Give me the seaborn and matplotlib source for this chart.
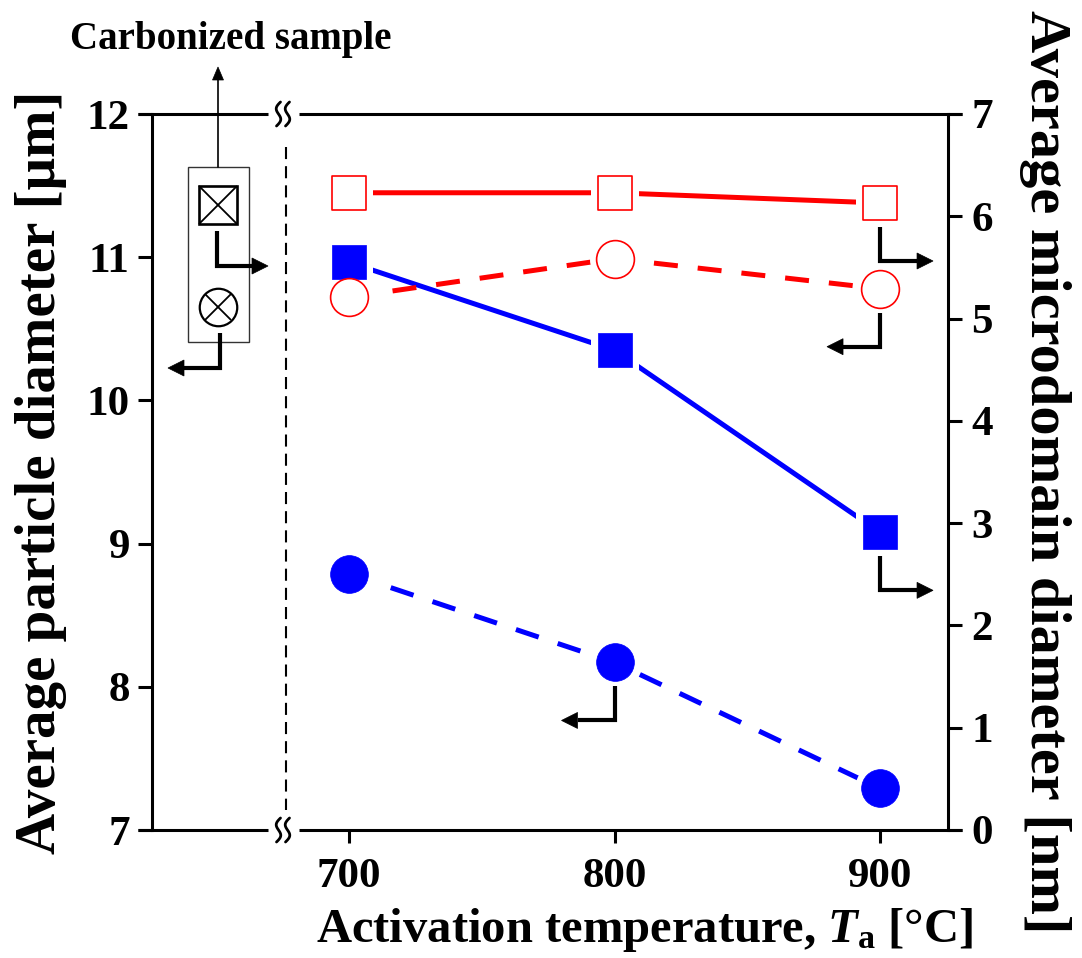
import numpy as np
import matplotlib
matplotlib.use("Agg")
import matplotlib.pyplot as plt
import seaborn as sns
from matplotlib.lines import Line2D
from matplotlib.patches import Rectangle, Polygon
from matplotlib.transforms import IdentityTransform

# ---------------- data ----------------
temperatures = [700, 800, 900]
microdomain_filled = [5.55, 4.69, 2.91]     # filled blue squares (right axis, nm)
microdomain_open = [6.23, 6.23, 6.13]       # open red squares (right axis, nm)
particle_filled = [8.79, 8.17, 7.29]        # filled blue circles (left axis, um)
particle_open = [10.72, 10.99, 10.78]       # open red circles (left axis, um)
left_ticks = [7, 8, 9, 10, 11, 12]
right_ticks = [0, 1, 2, 3, 4, 5, 6, 7]
x_ticks = [700, 800, 900]
x_ticklabels = ["700", "800", "900"]
xlabel = "Activation temperature, $\\mathit{T}_{\\mathrm{a}}$ [°C]"
ylabel_left = "Average particle diameter [μm]"
ylabel_right = "Average microdomain diameter [nm]"
annot_text = "Carbonized sample"

RED = "#FF0000"
BLUE = "#0000FF"

sns.set_theme(style="white")
plt.rcParams["font.family"] = ["Liberation Serif", "DejaVu Serif"]
plt.rcParams["font.weight"] = "bold"
plt.rcParams["text.color"] = "black"
plt.rcParams["axes.labelcolor"] = "black"
plt.rcParams["xtick.color"] = "black"
plt.rcParams["ytick.color"] = "black"
plt.rcParams["mathtext.fontset"] = "custom"
plt.rcParams["mathtext.rm"] = "Liberation Serif:bold"
plt.rcParams["mathtext.it"] = "Liberation Serif:italic:bold"
plt.rcParams["mathtext.bf"] = "Liberation Serif:bold"

W, H, DPI = 1082, 958, 100
fig = plt.figure(figsize=(W / DPI, H / DPI), dpi=DPI)
fig.patch.set_facecolor("white")

PL, PR, PT, PB = 152, 948, 114, 830
ax = fig.add_axes([PL / W, 1 - PB / H, (PR - PL) / W, (PB - PT) / H])
ax2 = ax.twinx()
ax.set_xlim(625.8, 925.6)
ax.set_ylim(7, 12)
ax2.set_ylim(0, 7)

LW = 3.6
DASH = (0, (4.8, 4.0))

# lines
sns.lineplot(x=temperatures, y=microdomain_open, ax=ax, color=RED, linewidth=LW,
             transform=ax2.transData, zorder=2)
sns.lineplot(x=temperatures, y=microdomain_filled, ax=ax, color=BLUE, linewidth=LW,
             transform=ax2.transData, zorder=2)
sns.lineplot(x=temperatures, y=particle_open, ax=ax, color=RED, linewidth=LW,
             linestyle=DASH, zorder=2)
sns.lineplot(x=temperatures, y=particle_filled, ax=ax, color=BLUE, linewidth=LW,
             linestyle=DASH, zorder=2)

SQ, SQH = 600, 1150
CI, CIH = 740, 1330
# white halos to separate lines from markers
for ys, tr, mk, s in [(microdomain_open, ax2.transData, "s", SQH),
                      (microdomain_filled, ax2.transData, "s", SQH),
                      (particle_open, ax.transData, "o", CIH),
                      (particle_filled, ax.transData, "o", CIH)]:
    sns.scatterplot(x=temperatures, y=ys, ax=ax, marker=mk, s=s, color="white",
                    edgecolor="white", linewidth=0, transform=tr, zorder=3)

# markers
sns.scatterplot(x=temperatures, y=microdomain_open, ax=ax, marker="s", s=SQ, color="white",
                edgecolor=RED, linewidth=1.2, transform=ax2.transData, zorder=4)
sns.scatterplot(x=temperatures, y=microdomain_filled, ax=ax, marker="s", s=SQ, color=BLUE,
                edgecolor=BLUE, linewidth=0.5, transform=ax2.transData, zorder=4)
sns.scatterplot(x=temperatures, y=particle_open, ax=ax, marker="o", s=CI, color="white",
                edgecolor=RED, linewidth=1.2, zorder=4)
sns.scatterplot(x=temperatures, y=particle_filled, ax=ax, marker="o", s=CI, color=BLUE,
                edgecolor=BLUE, linewidth=0.5, zorder=4)

ax.set_xlim(625.8, 925.6)
ax.set_ylim(7, 12)
ax2.set_ylim(0, 7)
ax.set_xlabel("")
ax.set_ylabel("")
ax2.set_ylabel("")

# axes styling
SPW = 2.2
for s in ["top", "bottom", "right"]:
    ax.spines[s].set_visible(False)
for s in ["top", "bottom", "left"]:
    ax2.spines[s].set_visible(False)
ax.spines["left"].set_linewidth(SPW)
ax.spines["left"].set_color("black")
ax2.spines["right"].set_linewidth(SPW)
ax2.spines["right"].set_color("black")

ax.set_xticks(x_ticks, x_ticklabels)
ax.set_yticks(left_ticks)
ax2.set_yticks(right_ticks)
ax.tick_params(axis="y", which="major", left=True, direction="out", length=10, width=SPW,
               labelsize=31, pad=6, colors="black")
ax.tick_params(axis="x", which="major", bottom=True, direction="out", length=9.5, width=SPW,
               labelsize=31, pad=11, colors="black")
ax2.tick_params(axis="y", which="major", right=True, direction="out", length=10, width=SPW,
                labelsize=31, pad=7, colors="black")
for lab in ax.get_xticklabels() + ax.get_yticklabels() + ax2.get_yticklabels():
    lab.set_fontweight("bold")
    lab.set_color("black")

ID = IdentityTransform()


def P(x, y):
    """image pixel (y down) -> display coords"""
    return x, H - y


def hline_img(x0, x1, y, lw=SPW, **kw):
    a, b = P(x0, y), P(x1, y)
    fig.add_artist(Line2D([a[0], b[0]], [a[1], b[1]], lw=lw, color="black",
                          transform=ID, solid_capstyle="butt", **kw))


# broken top and bottom frame lines
for yy in (PT, PB):
    hline_img(138, 268, yy)
    hline_img(299, 962, yy)
    cx, cy = P(283, yy)
    t = np.linspace(-1, 1, 60)
    for off in (-4.5, 4.5):
        fig.add_artist(Line2D(cx + off - 3.2 * np.sin(np.pi * t) + 2.0 * t, cy + 12 * t,
                              lw=2.0, color="black", transform=ID))

# dashed separator
a, b = P(286, 147), P(286, 810)
fig.add_artist(Line2D([a[0], b[0]], [a[1], b[1]], lw=1.5, color="black",
                      linestyle=(0, (5.8, 3.4)), transform=ID))


def elbow_arrow(cx, cy, direction, top=24, bottom=58, length=53, lw=3.0,
                head_len=16, head_w=8):
    y1 = cy - top
    y2 = cy - bottom
    xe = cx + direction * length
    xb = xe - direction * head_len
    fig.add_artist(Line2D([cx, cx, xb], [y1, y2, y2], lw=lw, color="black", transform=ID,
                          solid_joinstyle="miter", solid_capstyle="butt"))
    fig.add_artist(Polygon([[xe, y2], [xb, y2 + head_w], [xb, y2 - head_w]], closed=True,
                           facecolor="black", edgecolor="black", lw=0.5, transform=ID))


# arrows next to the data markers
cx, cy = ax2.transData.transform((temperatures[2], microdomain_open[2]))
elbow_arrow(cx, cy, +1)
cx, cy = ax.transData.transform((temperatures[2], particle_open[2]))
elbow_arrow(cx, cy, -1)
cx, cy = ax2.transData.transform((temperatures[2], microdomain_filled[2]))
elbow_arrow(cx, cy, +1)
cx, cy = ax.transData.transform((temperatures[1], particle_filled[1]))
elbow_arrow(cx, cy, -1)

# key box for carbonized sample
bx0, by0 = P(188, 342)
fig.add_artist(Rectangle((bx0, by0), 61, 175, fill=False, edgecolor="#333333", lw=1.0,
                         transform=ID))
qx, qy = P(218, 205)
fig.add_artist(Line2D([qx], [qy], marker="s", ms=28, mfc="none", mec="black", mew=1.9,
                      transform=ID, linestyle="none"))
fig.add_artist(Line2D([qx], [qy], marker="x", ms=28, mec="black", mew=1.3,
                      transform=ID, linestyle="none"))
ox, oy = P(218, 307)
fig.add_artist(Line2D([ox], [oy], marker="o", ms=27, mfc="none", mec="black", mew=1.6,
                      transform=ID, linestyle="none"))
fig.add_artist(Line2D([ox], [oy], marker="x", ms=19, mec="black", mew=1.3,
                      transform=ID, linestyle="none"))
elbow_arrow(qx - 1, qy, +1, top=26, bottom=61, length=51)
elbow_arrow(ox + 2, oy, -1, top=26, bottom=61, length=52)

# arrow up to the annotation text
a, b = P(218, 167), P(218, 80)
fig.add_artist(Line2D([a[0], b[0]], [a[1], b[1]], lw=1.2, color="black", transform=ID))
tip = P(218, 67)
fig.add_artist(Polygon([[tip[0], tip[1]], [b[0] - 5.5, b[1]], [b[0] + 5.5, b[1]]], closed=True,
                       facecolor="black", edgecolor="black", lw=0.5, transform=ID))
fig.text(231 / W, 1 - 40 / H, annot_text, ha="center", va="center", fontsize=28,
         fontweight="bold", color="black")

# axis labels
fig.text(41 / W, 1 - 472 / H, ylabel_left, rotation=90, ha="center", va="center",
         fontsize=41, fontweight="bold", color="black")
fig.text(1045 / W, 1 - 472 / H, ylabel_right, rotation=-90, ha="center", va="center",
         fontsize=42, fontweight="bold", color="black")
fig.text(645 / W, 1 - 930 / H, xlabel, ha="center", va="center", fontsize=35,
         fontweight="bold", color="black")

fig.savefig("out.png", dpi=DPI, facecolor="white")
